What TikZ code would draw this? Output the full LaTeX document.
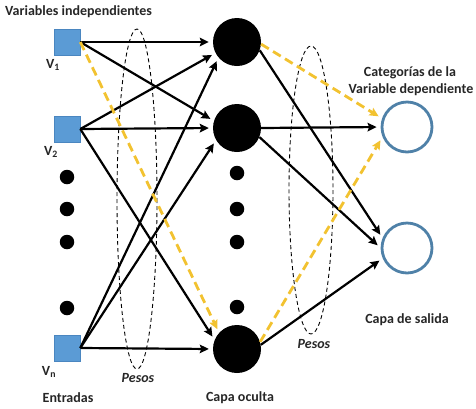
\documentclass[tikz,border=0pt]{standalone}
\usepackage{fontspec}
\setmainfont{Carlito}
\usetikzlibrary{arrows.meta}
\definecolor{sqblue}{HTML}{5B9BD5}
\definecolor{sqedge}{HTML}{4A86C0}
\definecolor{ringblue}{HTML}{4F81A8}
\definecolor{gold}{HTML}{F2C230}
\begin{document}
\begin{tikzpicture}[x=1pt,y=-1pt,
  inp/.style={rectangle,minimum size=26pt,inner sep=0pt,fill=sqblue,draw=sqedge,line width=0.6pt},
  hid/.style={circle,minimum size=48pt,inner sep=0pt,fill=black},
  outc/.style={circle,minimum size=50pt,inner sep=0pt,draw=ringblue,line width=2.8pt,fill=white},
  dotn/.style={circle,minimum size=14.5pt,inner sep=0pt,fill=black},
  lbl/.style={font=\fontsize{14}{16}\selectfont\bfseries,text=black!85,inner sep=0pt},
  pes/.style={font=\fontsize{14}{16}\selectfont\bfseries\itshape,text=black!85,inner sep=0pt},
  conn/.style={line width=2.2pt,-{Stealth[length=9pt,width=8.5pt,inset=1.5pt]},shorten >=4pt},
  yconn/.style={line width=2.8pt,draw=gold,dash pattern=on 9pt off 5pt,-{Stealth[length=9pt,width=8.5pt,inset=1.5pt]},shorten >=4pt},
  ell/.style={draw=black,line width=0.9pt,dash pattern=on 4pt off 3pt}]
\useasboundingbox (0,0) rectangle (476,408);
% dashed ellipses (weights)
\draw[ell] (137,199) ellipse [x radius=20, y radius=170];
\draw[ell] (311,190) ellipse [x radius=22, y radius=144];
% inputs
\node[inp] (v1) at (67,42) {};
\node[inp] (v2) at (67,129) {};
\node[inp] (vn) at (67,348) {};
\node[dotn] (ld1) at (67,177) {};
\node[dotn] (ld2) at (67,209) {};
\node[dotn] (ld3) at (67,242) {};
\node[dotn] (ld4) at (67,308) {};
% hidden
\node[hid] (h1) at (237,42) {};
\node[hid] (h2) at (237,128) {};
\node[hid] (h3) at (237,349) {};
\node[dotn] (hd1) at (237,173) {};
\node[dotn] (hd2) at (237,209) {};
\node[dotn] (hd3) at (237,242) {};
\node[dotn] (hd4) at (237,307) {};
% outputs
\node[outc] (o1) at (407,127) {};
\node[outc] (o2) at (407,248) {};
% input -> hidden
\draw[conn] (v1.east) -- (h1.west);
\draw[conn] (v1.east) -- (h2.163);
\draw[conn] (v2.east) -- (h1.207);
\draw[conn] (v2.east) -- (h2.west);
\draw[conn] (v2.east) -- (h3.158);
\draw[conn] (vn.east) -- (h1.220);
\draw[conn] (vn.east) -- (h2.210);
\draw[conn] (vn.east) -- (h3.west);
\draw[yconn] (v1.east) -- (h3.138);
% hidden -> output
\draw[yconn] (h1.-5) -- (o1.161);
\draw[conn] (h1.-20) -- (o2.158);
\draw[conn] (h2.east) -- (o1.west);
\draw[conn] (h2.-22) -- (o2.west);
\draw[yconn] (h3.17) -- (o1.202);
\draw[conn] (h3.10) -- (o2.203);
% labels
\node[lbl,anchor=west] (tvi) at (5,12) {Variables independientes};
\node[lbl] (tv1) at (53,65) {V\textsubscript{1}};
\node[lbl] (tv2) at (51,152) {V\textsubscript{2}};
\node[lbl] (tvn) at (49,372) {V\textsubscript{n}};
\node[lbl] (tcat1) at (410,73) {Categorías de la};
\node[lbl] (tcat2) at (411,90) {Variable dependiente};
\node[lbl] (tsal) at (407,320) {Capa de salida};
\node[lbl] (tent) at (68,398) {Entradas};
\node[lbl] (toc) at (240,398) {Capa oculta};
\node[pes] (tp1) at (138,378) {Pesos};
\node[pes] (tp2) at (314,344) {Pesos};
\end{tikzpicture}
\end{document}
